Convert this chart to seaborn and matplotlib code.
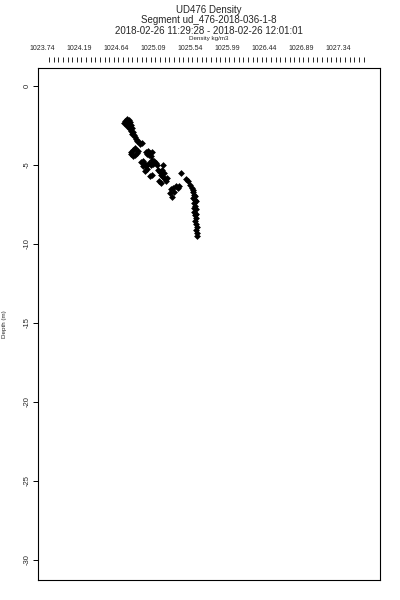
import numpy as np
import pandas as pd
import seaborn as sns
import matplotlib.pyplot as plt

# données
densite = [1024.749, 1024.774, 1024.798, 1024.737, 1024.762, 1024.786, 1024.810, 1024.774,
           1024.798, 1024.822, 1024.810, 1024.835, 1024.822, 1024.847, 1024.835, 1024.859,
           1024.871, 1024.883, 1024.895, 1024.920, 1024.932, 1024.956, 1024.871, 1024.847,
           1024.822, 1024.822, 1024.847, 1024.871, 1024.895, 1024.908, 1025.005, 1025.029,
           1025.054, 1025.078, 1025.041, 1025.066, 1025.017, 1024.944, 1024.968, 1024.993,
           1024.968, 1025.005, 1025.041, 1025.066, 1025.090, 1025.078, 1025.102, 1025.126,
           1025.139, 1025.017, 1024.993, 1025.054, 1025.078, 1025.151, 1025.175, 1025.199,
           1025.224, 1025.187, 1025.212, 1025.163, 1025.187, 1025.212, 1025.236, 1025.260,
           1025.248, 1025.309, 1025.333, 1025.370, 1025.394, 1025.406, 1025.321, 1025.345,
           1025.297, 1025.431, 1025.491, 1025.516, 1025.540, 1025.564, 1025.576, 1025.576,
           1025.589, 1025.576, 1025.601, 1025.589, 1025.601, 1025.613, 1025.589, 1025.601,
           1025.613, 1025.601, 1025.613, 1025.625, 1025.613, 1025.625, 1025.625, 1025.613,
           1025.601, 1025.613, 1025.589]
profondeur = [-2.22, -2.09, -2.15, -2.34, -2.41, -2.34, -2.28, -2.53,
              -2.59, -2.47, -2.72, -2.66, -2.85, -2.91, -3.04, -3.10,
              -3.23, -3.35, -3.48, -3.54, -3.67, -3.61, -3.92, -4.05,
              -4.18, -4.30, -4.43, -4.37, -4.24, -4.11, -4.18, -4.11,
              -4.24, -4.18, -4.37, -4.43, -4.30, -4.81, -4.75, -4.94,
              -5.06, -5.06, -4.87, -5.00, -4.94, -4.68, -4.75, -4.87,
              -5.00, -5.25, -5.38, -5.70, -5.63, -5.32, -5.44, -5.32,
              -5.51, -5.63, -5.00, -6.01, -6.14, -5.76, -5.89, -5.82,
              -6.01, -6.52, -6.46, -6.33, -6.46, -6.33, -7.03, -6.71,
              -6.77, -5.51, -5.89, -6.01, -6.27, -6.46, -6.58, -6.71,
              -6.90, -7.09, -7.22, -7.41, -7.59, -7.78, -7.97, -8.16,
              -8.35, -8.54, -8.73, -8.92, -9.11, -9.30, -9.49, -8.10,
              -6.96, -7.28, -7.72]

graduations_x = [1023.74, 1024.19, 1024.64, 1025.09, 1025.54, 1025.99, 1026.44, 1026.89, 1027.34]
graduations_y = [0, -5, -10, -15, -20, -25, -30]

df = pd.DataFrame({"Densite": densite, "Profondeur": profondeur})

sns.set_theme(style="ticks")
plt.rcParams["font.family"] = ["Liberation Sans", "DejaVu Sans"]

fig = plt.figure(figsize=(4, 6), dpi=100)
ax = fig.add_axes([0.095, 0.0333, 0.855, 0.8534])

sns.scatterplot(data=df, x="Densite", y="Profondeur", marker="D", s=12,
                color="black", linewidth=0, ax=ax)

ax.set_xlim(1023.69, 1027.85)
ax.set_ylim(-31.27, 1.14)
ax.set_xticks([])
ax.set_xlabel("")
for sp in ax.spines.values():
    sp.set_visible(True)
    sp.set_linewidth(0.8)
    sp.set_color("black")

# axe du haut : graduations détachées du cadre
ax_haut = ax.twiny()
ax_haut.set_xlim(ax.get_xlim())
ax_haut.spines["top"].set_position(("outward", 4.3))
for sp in ax_haut.spines.values():
    sp.set_visible(False)
ax_haut.set_xticks(graduations_x)
ax_haut.set_xticklabels([f"{v:.2f}" for v in graduations_x], fontsize=5)
ax_haut.set_xticks(np.arange(1023.825, 1027.70, 0.05625), minor=True)
ax_haut.tick_params(axis="x", which="major", length=0, pad=7)
ax_haut.tick_params(axis="x", which="minor", length=3.6, width=0.6, direction="out", color="black")

# axe des profondeurs
ax.set_yticks(graduations_y)
ax.set_yticklabels([str(v) for v in graduations_y], rotation=90, va="center", fontsize=5.5)
ax.tick_params(axis="y", direction="out", length=3.5, width=0.7, pad=2, color="black", left=True)
ax.set_ylabel("Depth (m)", fontsize=4.5, labelpad=12)

fig.text(0.5225, 0.984, "UD476 Density", ha="center", va="center", fontsize=7)
fig.text(0.5225, 0.966, "Segment ud_476-2018-036-1-8", ha="center", va="center", fontsize=7)
fig.text(0.5225, 0.948, "2018-02-26 11:29:28 - 2018-02-26 12:01:01", ha="center", va="center", fontsize=7)
fig.text(0.5225, 0.936, "Density kg/m3", ha="center", va="center", fontsize=4.5)

plt.savefig("out.png", dpi=100)
